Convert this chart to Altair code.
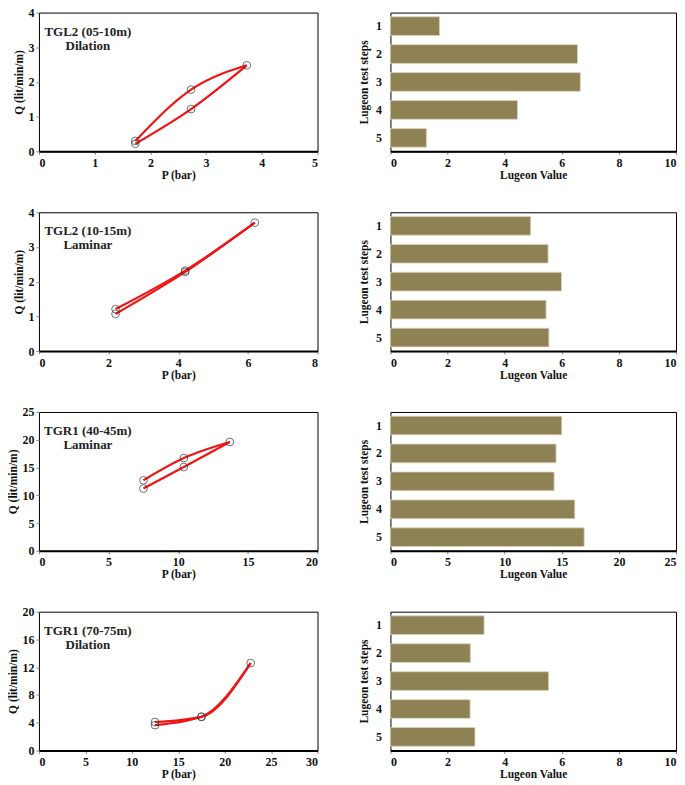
import altair as alt
import pandas as pd

# ---------------- data ----------------
steps = [1, 2, 3, 4, 5]

# Pressure-flow curves (P in bar, Q in lit/min/m), steps 1..5
p1_P = [1.73, 2.73, 3.73, 2.73, 1.73]
p1_Q = [0.22, 1.22, 2.48, 1.78, 0.30]
p2_P = [2.2, 4.2, 6.2, 4.2, 2.2]
p2_Q = [1.07, 2.28, 3.70, 2.32, 1.21]
p3_P = [7.5, 10.4, 13.7, 10.4, 7.5]
p3_Q = [11.2, 15.1, 19.6, 16.7, 12.7]
p4_P = [12.5, 17.5, 22.8, 17.5, 12.5]
p4_Q = [3.65, 4.85, 12.6, 4.85, 4.10]

# Lugeon values per step
lu1 = [1.72, 6.55, 6.65, 4.45, 1.26]
lu2 = [4.91, 5.52, 5.99, 5.45, 5.55]
lu3 = [15.0, 14.5, 14.33, 16.14, 16.96]
lu4 = [3.28, 2.80, 5.54, 2.79, 2.96]

titles = ["TGL2 (05-10m)", "TGL2 (10-15m)", "TGR1 (40-45m)", "TGR1 (70-75m)"]
regimes = ["Dilation", "Laminar", "Laminar", "Dilation"]

x_ticks = [[0, 1, 2, 3, 4, 5], [0, 2, 4, 6, 8], [0, 5, 10, 15, 20], [0, 5, 10, 15, 20, 25, 30]]
y_ticks = [[0, 1, 2, 3, 4], [0, 1, 2, 3, 4], [0, 5, 10, 15, 20, 25], [0, 4, 8, 12, 16, 20]]
lu_ticks = [[0, 2, 4, 6, 8, 10], [0, 2, 4, 6, 8, 10], [0, 5, 10, 15, 20, 25], [0, 2, 4, 6, 8, 10]]

FONT = "Liberation Serif"
LW, RW, H = 279, 286, 139
BAR = "#8e8254"


def pq_frame(P, Q):
    rows = []
    for i, (p, q) in enumerate(zip(P, Q)):
        s = steps[i]
        if s <= 3:
            rows.append({"P": p, "Q": q, "step": s, "branch": "up"})
        if s >= 3:
            rows.append({"P": p, "Q": q, "step": s, "branch": "down"})
    return pd.DataFrame(rows)


def left_panel(P, Q, xt, yt, title, regime):
    df = pq_frame(P, Q)
    xs = alt.Scale(domain=[xt[0], xt[-1]], nice=False)
    ys = alt.Scale(domain=[yt[0], yt[-1]], nice=False)
    xax = alt.Axis(values=xt, title="P (bar)", grid=False, domainWidth=2,
                   domainColor="black", tickSize=3, tickColor="#888",
                   labelPadding=3, titlePadding=1, labelOverlap=False)
    yax = alt.Axis(values=yt, title="Q (lit/min/m)", grid=False, domain=False,
                   tickSize=3, tickColor="#888", labelPadding=2, titlePadding=3,
                   labelOverlap=False)
    X = alt.X("P:Q", scale=xs, axis=xax)
    Y = alt.Y("Q:Q", scale=ys, axis=yax)
    base = alt.Chart(df)
    line = base.mark_line(color="#f01414", strokeWidth=2.2, interpolate="monotone").encode(
        x=X, y=Y, detail="branch:N",
    )
    pts = base.transform_filter("datum.branch == 'up' || datum.step != 3").mark_point(
        shape="circle", filled=False, color="#333333", size=60, strokeWidth=1
    ).encode(x=X, y=Y)
    t1 = alt.Chart(pd.DataFrame({"t": [title]})).mark_text(
        font=FONT, fontWeight="bold", fontSize=13, color="#222"
    ).encode(x=alt.value(49), y=alt.value(19), text="t:N")
    t2 = alt.Chart(pd.DataFrame({"t": [regime]})).mark_text(
        font=FONT, fontWeight="bold", fontSize=13, color="#222"
    ).encode(x=alt.value(49), y=alt.value(33), text="t:N")
    return alt.layer(line, pts, t1, t2).properties(width=LW, height=H)


def right_panel(vals, xt):
    df = pd.DataFrame({"step": steps, "lugeon": vals})
    return alt.Chart(df).mark_bar(color=BAR, stroke="#d9d4bd", strokeWidth=0.8).encode(
        x=alt.X("lugeon:Q", scale=alt.Scale(domain=[xt[0], xt[-1]], nice=False),
                axis=alt.Axis(values=xt, title="Lugeon Value", grid=False, domainWidth=2,
                              domainColor="black", tickSize=3, tickColor="#888",
                              labelPadding=3, titlePadding=1, labelOverlap=False)),
        y=alt.Y("step:O", scale=alt.Scale(paddingInner=0.33, paddingOuter=0.15),
                axis=alt.Axis(title="Lugeon test steps", domain=False, ticks=False,
                              labelAngle=0, labelPadding=9, titlePadding=6,
                              labelOverlap=False)),
    ).properties(width=RW, height=H)


Ps = [p1_P, p2_P, p3_P, p4_P]
Qs = [p1_Q, p2_Q, p3_Q, p4_Q]
Ls = [lu1, lu2, lu3, lu4]

rows = []
for i in range(4):
    rows.append(alt.hconcat(
        left_panel(Ps[i], Qs[i], x_ticks[i], y_ticks[i], titles[i], regimes[i]),
        right_panel(Ls[i], lu_ticks[i]),
        spacing=39,
    ))

chart = alt.vconcat(*rows, spacing=24).properties(
    padding={"left": -1, "top": -3, "right": 0, "bottom": 0},
    background="white",
).configure_view(
    stroke="black", strokeWidth=1
).configure_axis(
    labelFont=FONT, labelFontWeight="bold", labelFontSize=12, labelColor="#111",
    titleFont=FONT, titleFontWeight="bold", titleFontSize=11.5, titleColor="#111",
)

chart.save("out.html", embed_options={"renderer": "svg", "actions": False})
